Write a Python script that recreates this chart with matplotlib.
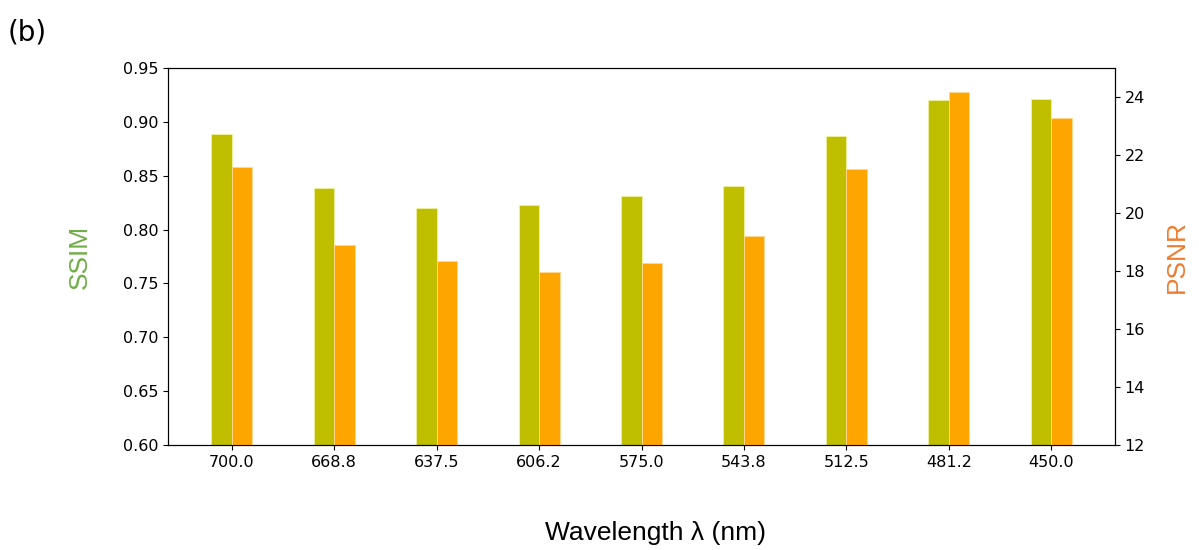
import matplotlib
matplotlib.use("Agg")
import matplotlib.pyplot as plt
import numpy as np

wavelengths = ["700.0", "668.8", "637.5", "606.2", "575.0", "543.8", "512.5", "481.2", "450.0"]
ssim = [0.889, 0.839, 0.820, 0.823, 0.831, 0.840, 0.887, 0.920, 0.921]
psnr = [21.6, 18.9, 18.33, 17.95, 18.28, 19.2, 21.53, 24.17, 23.26]

fig = plt.figure(figsize=(11.99, 5.5), dpi=100)
ax = fig.add_axes([168/1199, 1-445/550, (1115-168)/1199, (445-68)/550])
ax2 = ax.twinx()

x = np.arange(len(wavelengths))
w = 0.2
ax.bar(x - w/2, ssim, width=w, color="#BFBF00", edgecolor="#F2F2A0", linewidth=0.6)
ax2.bar(x + w/2, psnr, width=w, color="#FFA500", edgecolor="#FFD890", linewidth=0.6)

ax.set_ylim(0.60, 0.95)
ax.set_yticks(np.arange(0.60, 0.951, 0.05))
ax2.set_ylim(12, 25)
ax2.set_yticks([12, 14, 16, 18, 20, 22, 24])
ax.set_xlim(-0.62, 8.62)
ax.set_xticks(x)
ax.set_xticklabels(wavelengths)
ax.tick_params(labelsize=11.5)
ax2.tick_params(labelsize=11.5)

lab_font = dict(family="Liberation Sans", fontsize=19)
ax.set_ylabel("SSIM", color="#70AD47", labelpad=22, **lab_font)
ax2.set_ylabel("PSNR", color="#ED7D31", labelpad=14, **lab_font)
ax.set_xlabel("Wavelength \u03bb (nm)", labelpad=37, **lab_font)
ax.xaxis.label.set_position((0.515, 0))

fig.text(8/1199, 1-40/550, "(b)", fontsize=20)

fig.savefig("out.png", dpi=100)
